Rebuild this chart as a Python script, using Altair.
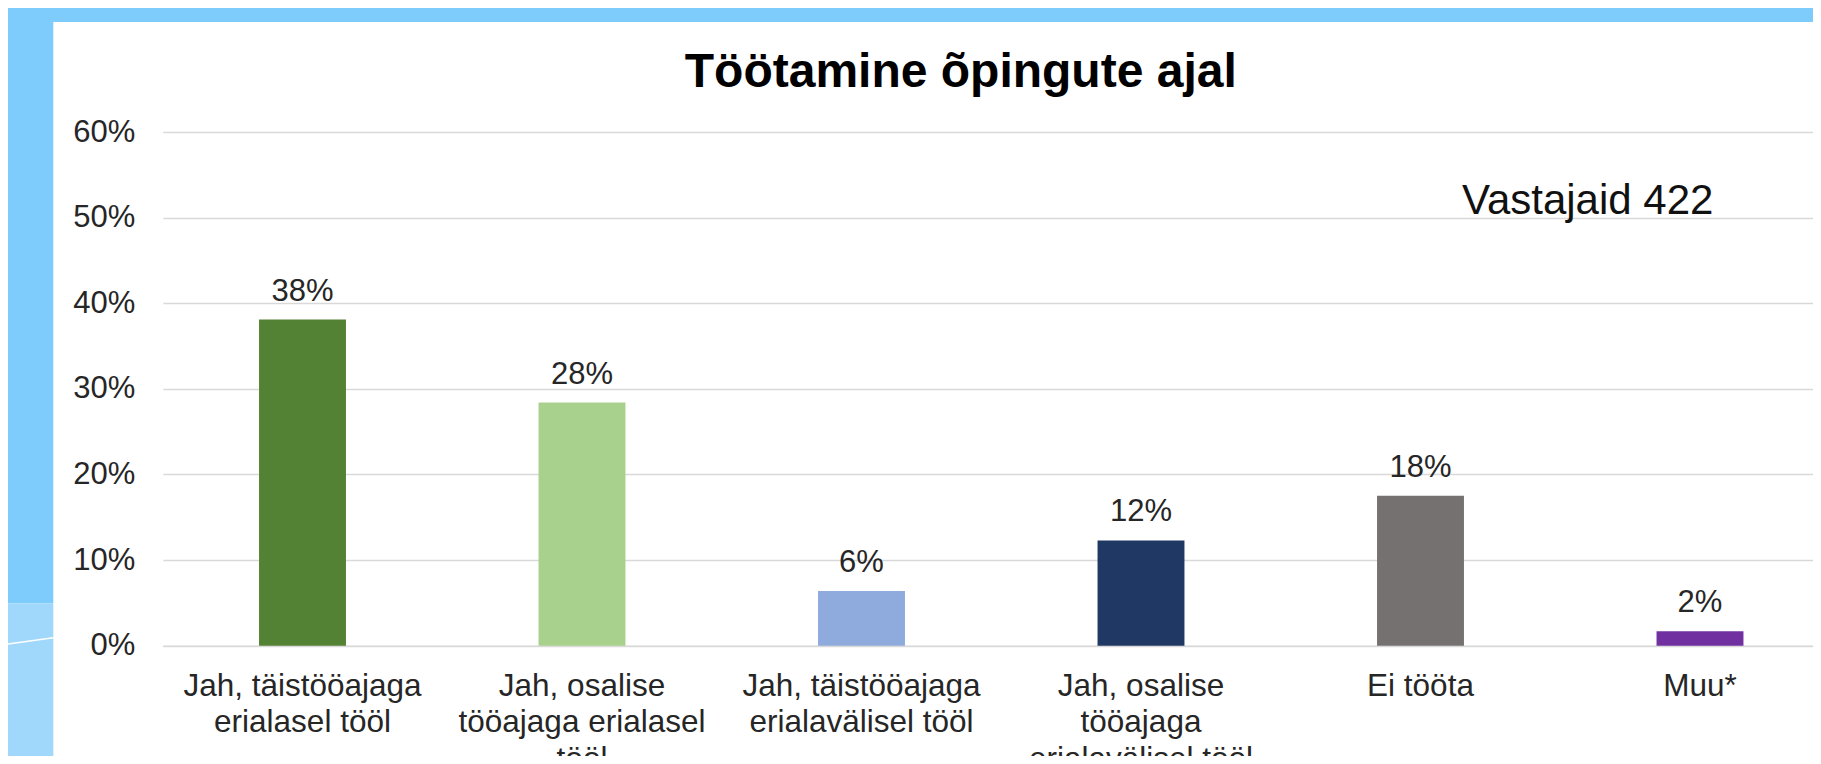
import altair as alt
import pandas as pd

# ---- data ----
categories = [
    "Jah, täistööajaga\nerialasel tööl",
    "Jah, osalise\ntööajaga erialasel\ntööl",
    "Jah, täistööajaga\nerialavälisel tööl",
    "Jah, osalise\ntööajaga\nerialavälisel tööl",
    "Ei tööta",
    "Muu*",
]
values = [38.1, 28.4, 6.4, 12.3, 17.5, 1.7]
value_labels = ["38%", "28%", "6%", "12%", "18%", "2%"]
bar_colors = ["#548235", "#A9D18E", "#8FAADC", "#203864", "#767171", "#7030A0"]
y_ticks = [0, 10, 20, 30, 40, 50, 60]
title_text = "Töötamine õpingute ajal"
note_text = "Vastajaid 422"

FONT = "Liberation Sans"
TXT = "#262626"

df = pd.DataFrame({"cat": categories, "val": values, "lab": value_labels})
one = pd.DataFrame({"k": [0]})

W = 1650
H = 513.7
PL, PT = 154.75, 124
PB = 748 - PT - H

xscale = alt.Scale(domain=categories, range=[0, 1677], paddingInner=0.689, paddingOuter=0.3445)

x_enc = alt.X(
    "cat:N", sort=categories, scale=xscale,
    axis=alt.Axis(
        title=None, labelAngle=0, ticks=False, tickSize=0,
        domainColor="#d9d9d9", domainWidth=1.5,
        labelFont=FONT, labelFontSize=31.5, labelColor=TXT,
        labelLineHeight=36.7, labelBaseline="alphabetic", labelPadding=49.5,
        labelLimit=0, labelOverlap=False,
        labelExpr="split(datum.label, '\\n')",
    ),
)
y_enc = alt.Y(
    "val:Q", scale=alt.Scale(domain=[0, 60], nice=False),
    axis=alt.Axis(
        title=None, values=y_ticks, grid=True, gridColor="#d9d9d9", gridWidth=1.5,
        domain=False, ticks=False, tickSize=0, labelPadding=28,
        labelFont=FONT, labelFontSize=31, labelColor=TXT,
        labelExpr="datum.value + '%'",
    ),
)

blue = "#7ECCFB"
light_blue = "#9FD8FB"

top_band = alt.Chart(one).mark_rect(color=blue).encode(
    x=alt.value(-PL), x2=alt.value(W + 50), y=alt.value(-PT), y2=alt.value(-110)
)
left_band = alt.Chart(one).mark_rect(color=blue).encode(
    x=alt.value(-PL), x2=alt.value(-109.45), y=alt.value(-PT), y2=alt.value(471.3)
)
left_light = alt.Chart(one).mark_rect(color=light_blue).encode(
    x=alt.value(-PL), x2=alt.value(-109.45), y=alt.value(471.3), y2=alt.value(H + 200)
)
swoosh = alt.Chart(one).mark_rule(color="white", strokeWidth=1.5).encode(
    x=alt.value(-PL), x2=alt.value(-109.45), y=alt.value(511.9), y2=alt.value(505.7)
)

bars = alt.Chart(df).mark_bar().encode(
    x=x_enc, y=y_enc,
    color=alt.Color("cat:N", scale=alt.Scale(domain=categories, range=bar_colors), legend=None),
)
labels = alt.Chart(df).mark_text(
    font=FONT, fontSize=31, color=TXT, baseline="alphabetic", dy=-19
).encode(x=alt.X("cat:N", sort=categories, scale=xscale), y="val:Q", text="lab:N")

title = alt.Chart(one).mark_text(
    text=title_text, font=FONT, fontSize=48, fontWeight="bold", color="#000000",
    align="center", baseline="alphabetic"
).encode(x=alt.value(798), y=alt.value(-44.7))

note = alt.Chart(one).mark_text(
    text=note_text, font=FONT, fontSize=42, color="#111111",
    align="left", baseline="alphabetic"
).encode(x=alt.value(1299.25), y=alt.value(82))

chart = alt.layer(top_band, left_band, left_light, swoosh, bars, labels, title, note).properties(
    width=W, height=H,
    autosize=alt.AutoSizeParams(type="none"),
    padding={"left": PL, "top": PT, "right": 0, "bottom": PB},
    background="white",
).configure_view(stroke=None)

chart.save("out.html", embed_options={"renderer": "svg", "actions": False})
